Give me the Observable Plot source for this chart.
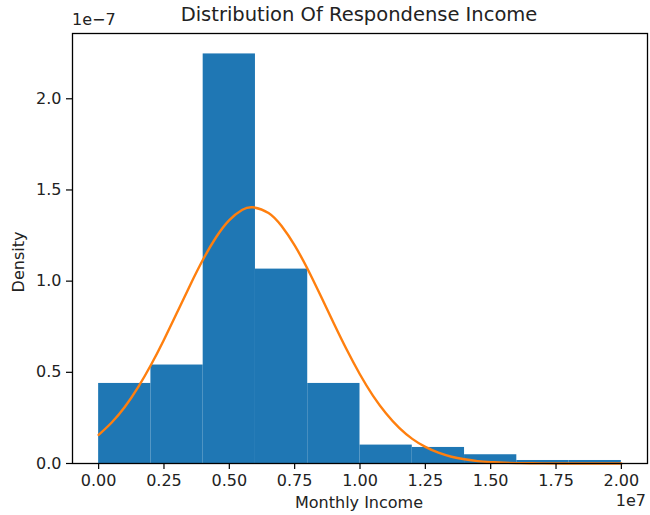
<!DOCTYPE html>
<html>
<head>
<meta charset="utf-8">
<script src="https://cdn.jsdelivr.net/npm/d3@7"></script>
<script src="https://cdn.jsdelivr.net/npm/@observablehq/plot@0.6"></script>
<style>
  html, body { margin: 0; padding: 0; background: #fff; }
  #wrap { position: relative; width: 650px; height: 515px; font-family: "DejaVu Sans", sans-serif; color: #000; }
  .lbl { position: absolute; white-space: nowrap; line-height: 1; z-index: 2; }
  #chart { position: absolute; left: 0; top: 0; z-index: 1; }
</style>
</head>
<body>
<div id="wrap">
  <div id="chart"></div>
  <div class="lbl" id="title" style="left:359px; top:5px; transform:translateX(-50%); font-size:19.5px; color:#222;">Distribution Of Respondense Income</div>
  <div class="lbl" style="left:72px; top:12px; font-size:16px; color:#222;">1e−7</div>
  <div class="lbl" style="right:4px; top:493px; font-size:16px; color:#222;">1e7</div>
  <div class="lbl" style="left:359px; top:495px; transform:translateX(-50%); font-size:16px; color:#222;">Monthly Income</div>
  <div class="lbl" style="left:19px; top:262px; transform:translate(-50%,-50%) rotate(-90deg); font-size:16px; color:#222;">Density</div>
</div>
<script>
// Histogram bins (monthly income, units of 1e7) and density (units of 1e-7)
const binStart = [0.0, 0.2, 0.4, 0.6, 0.8, 1.0, 1.2, 1.4, 1.6, 1.8];
const binEnd   = [0.2, 0.4, 0.6, 0.8, 1.0, 1.2, 1.4, 1.6, 1.8, 2.0];
const binDensity = [0.439, 0.540, 2.246, 1.066, 0.439, 0.101, 0.088, 0.048, 0.0165, 0.0165];

// Fitted normal curve (x in 1e7, density in 1e-7)
const curveX = [0.0, 0.05, 0.1, 0.15, 0.2, 0.25, 0.3, 0.35, 0.4, 0.45, 0.5, 0.55, 0.59, 0.65, 0.7, 0.75, 0.8, 0.85, 0.9, 0.95,
                1.0, 1.05, 1.1, 1.15, 1.2, 1.25, 1.3, 1.35, 1.4, 1.45, 1.5, 1.55, 1.6, 1.65, 1.7, 1.8, 1.9, 2.0];
const curveY = [0.157, 0.225, 0.310, 0.416, 0.540, 0.679, 0.828, 0.978, 1.120, 1.242, 1.335, 1.391, 1.405, 1.374, 1.302, 1.196, 1.065, 0.918, 0.768, 0.622,
                0.488, 0.371, 0.274, 0.195, 0.135, 0.091, 0.059, 0.037, 0.023, 0.013, 0.0077, 0.0043, 0.0023, 0.0012, 0.0006, 0.00014, 0.0, 0.0];

const xTicks = [0, 0.25, 0.5, 0.75, 1.0, 1.25, 1.5, 1.75, 2.0];
const yTicks = [0, 0.5, 1.0, 1.5, 2.0];

const bins = binStart.map((s, i) => ({x1: s, x2: binEnd[i], d: binDensity[i]}));
const curve = curveX.map((x, i) => ({x, y: curveY[i]}));

const chart = Plot.plot({
  width: 650,
  height: 515,
  marginLeft: 72,
  marginRight: 3,
  marginTop: 33,
  marginBottom: 52,
  style: {fontFamily: "DejaVu Sans, sans-serif", fontSize: "16px", color: "#222", background: "transparent", overflow: "visible"},
  x: {domain: [-0.1, 2.1], label: null},
  y: {domain: [0, 2.358], label: null},
  marks: [
    Plot.rect(bins, {x1: "x1", x2: "x2", y1: 0, y2: "d", fill: "#1f77b4"}),
    Plot.line(curve, {x: "x", y: "y", stroke: "#ff7f0e", strokeWidth: 2.4, curve: "natural"}),
    Plot.frame({stroke: "#000", strokeWidth: 1.3}),
    Plot.axisX({ticks: xTicks, tickFormat: d3.format(".2f"), tickSize: 6, tickPadding: 5, label: null, strokeWidth: 1.2, stroke: "#000", fontSize: 16, fill: "#222"}),
    Plot.axisY({ticks: yTicks, tickFormat: d3.format(".1f"), tickSize: 6, tickPadding: 5, label: null, strokeWidth: 1.2, stroke: "#000", fontSize: 16, fill: "#222"})
  ]
});
document.getElementById("chart").appendChild(chart);
</script>
</body>
</html>
